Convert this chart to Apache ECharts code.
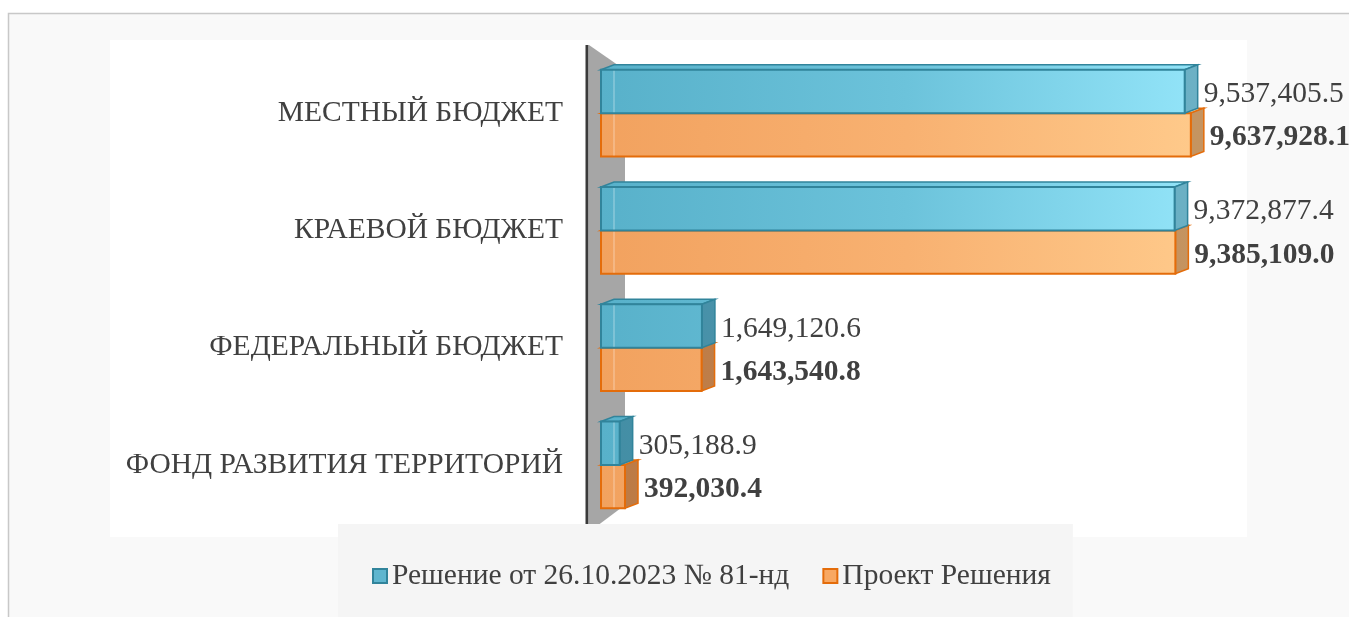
<!DOCTYPE html>
<html>
<head>
<meta charset="utf-8">
<style>
    html, body {margin: 0; background: #fff;}
    #chart {width: 1349px; height: 617px;}
</style>
<script src="https://cdn.jsdelivr.net/npm/echarts@6/dist/echarts.min.js"></script>
</head>
<body>
<div id="chart"></div>
<script>
    var categories = ['МЕСТНЫЙ БЮДЖЕТ', 'КРАЕВОЙ БЮДЖЕТ', 'ФЕДЕРАЛЬНЫЙ БЮДЖЕТ', 'ФОНД РАЗВИТИЯ ТЕРРИТОРИЙ'];
    var seriesNames = ['Решение от 26.10.2023 № 81-нд', 'Проект Решения'];
    var decisionValues = [9537405.5, 9372877.4, 1649120.6, 305188.9];
    var projectValues = [9637928.1, 9385109.0, 1643540.8, 392030.4];

    var font = '"Liberation Serif", "Times New Roman", serif';
    var fontSize = 29.5;

    function fmt(v) {
        return v.toLocaleString('en-US', {minimumFractionDigits: 1, maximumFractionDigits: 1});
    }

    // 3d-looking bar: front face, top face, right face
    function box(pos, face, edge, shade, bold) {
        return function (params, api) {
            var cat = api.value(1);
            var p0 = api.coord([0, cat]);
            var p1 = api.coord([api.value(0), cat]);
            var band = api.size([0, 1])[1];
            var h = band * 0.37, d = 13, dy = 5;
            var x0 = p0[0], xv = p1[0];
            var y0 = pos < 0 ? p0[1] - h : p0[1], y1 = y0 + h;
            var sidePts = [[xv, y0], [xv + d, y0 - dy], [xv + d, y1 - dy], [xv, y1]];
            return {
                type: 'group',
                children: [
                    {type: 'polygon', shape: {points: [[x0, y0], [x0 + d, y0 - dy], [xv + d, y0 - dy], [xv, y0]]},
                        style: {fill: face, stroke: edge, lineWidth: 1.5}},
                    {type: 'polygon', shape: {points: sidePts}, style: {fill: face}},
                    {type: 'polygon', shape: {points: sidePts},
                        style: {fill: shade, stroke: edge, lineWidth: 1.5}},
                    {type: 'rect', shape: {x: x0, y: y0, width: xv - x0, height: h},
                        style: {fill: face, stroke: edge, lineWidth: 2}},
                    {type: 'line', shape: {x1: x0 + d, y1: y0 + 1, x2: x0 + d, y2: y1 - 1},
                        style: {stroke: 'rgba(255,255,255,0.3)', lineWidth: 1.5}},
                    {type: 'text', x: xv + d + 6, y: y0 + h / 2 + 3,
                        style: {text: fmt(api.value(0)), font: (bold ? 'bold ' : '') + fontSize + 'px ' + font,
                            fill: '#404040', verticalAlign: 'middle'}}
                ]
            };
        };
    }

    var blueFace = new echarts.graphic.LinearGradient(601, 0, 1213, 0, [
        {offset: 0, color: '#58b1ca'}, {offset: 0.5, color: '#6cc3db'}, {offset: 1, color: '#95e6fa'}], true);
    var orangeFace = new echarts.graphic.LinearGradient(601, 0, 1213, 0, [
        {offset: 0, color: '#f2a25f'}, {offset: 0.5, color: '#f8b171'}, {offset: 1, color: '#ffcb8c'}], true);

    var myChart = echarts.init(document.getElementById('chart'));
    var option = {
        backgroundColor: '#fff',
        animation: false,
        graphic: [
            {type: 'rect', z: -10, shape: {x: 8.5, y: 13.5, width: 1400, height: 700},
                style: {fill: '#f9f9f9', stroke: '#c8c8c8', lineWidth: 1.5}},
            {type: 'rect', z: -9, shape: {x: 110, y: 40, width: 1137, height: 497}, style: {fill: '#fff'}},
            {type: 'polygon', z: -8, shape: {points: [[589, 45], [625, 70], [625, 505], [589, 532]]},
                style: {fill: '#a6a6a6'}},
            {type: 'line', z: -7, shape: {x1: 587, y1: 45, x2: 587, y2: 532},
                style: {stroke: '#3a3a3a', lineWidth: 3}}
        ],
        grid: {left: 601, right: 136, top: 54.5, height: 469},
        legend: {
            data: seriesNames,
            left: 338, top: 524,
            padding: [37, 22, 38, 34],
            backgroundColor: '#f5f5f5',
            icon: 'rect',
            itemGap: 33, itemWidth: 14, itemHeight: 14,
            textStyle: {fontSize: fontSize, fontFamily: font, color: '#404040'}
        },
        xAxis: {type: 'value', min: 0, max: 10000000, show: false},
        yAxis: {
            type: 'category', inverse: true, data: categories,
            axisLine: {show: false}, axisTick: {show: false},
            axisLabel: {fontSize: fontSize, fontFamily: font, color: '#404040', margin: 38}
        },
        series: [
            {
                name: seriesNames[1], type: 'custom', z: 2,
                itemStyle: {color: '#f8a862', borderColor: '#e46c0a', borderWidth: 2},
                encode: {x: 0, y: 1},
                data: projectValues.map(function (v, i) { return [v, i]; }),
                renderItem: box(1, orangeFace, '#e46c0a', 'rgba(90,50,20,0.35)', true)
            },
            {
                name: seriesNames[0], type: 'custom', z: 3,
                itemStyle: {color: '#5fb6cf', borderColor: '#31849b', borderWidth: 2},
                encode: {x: 0, y: 1},
                data: decisionValues.map(function (v, i) { return [v, i]; }),
                renderItem: box(-1, blueFace, '#31849b', 'rgba(20,60,80,0.3)', false)
            }
        ]
    };
    myChart.setOption(option);
</script>
</body>
</html>
